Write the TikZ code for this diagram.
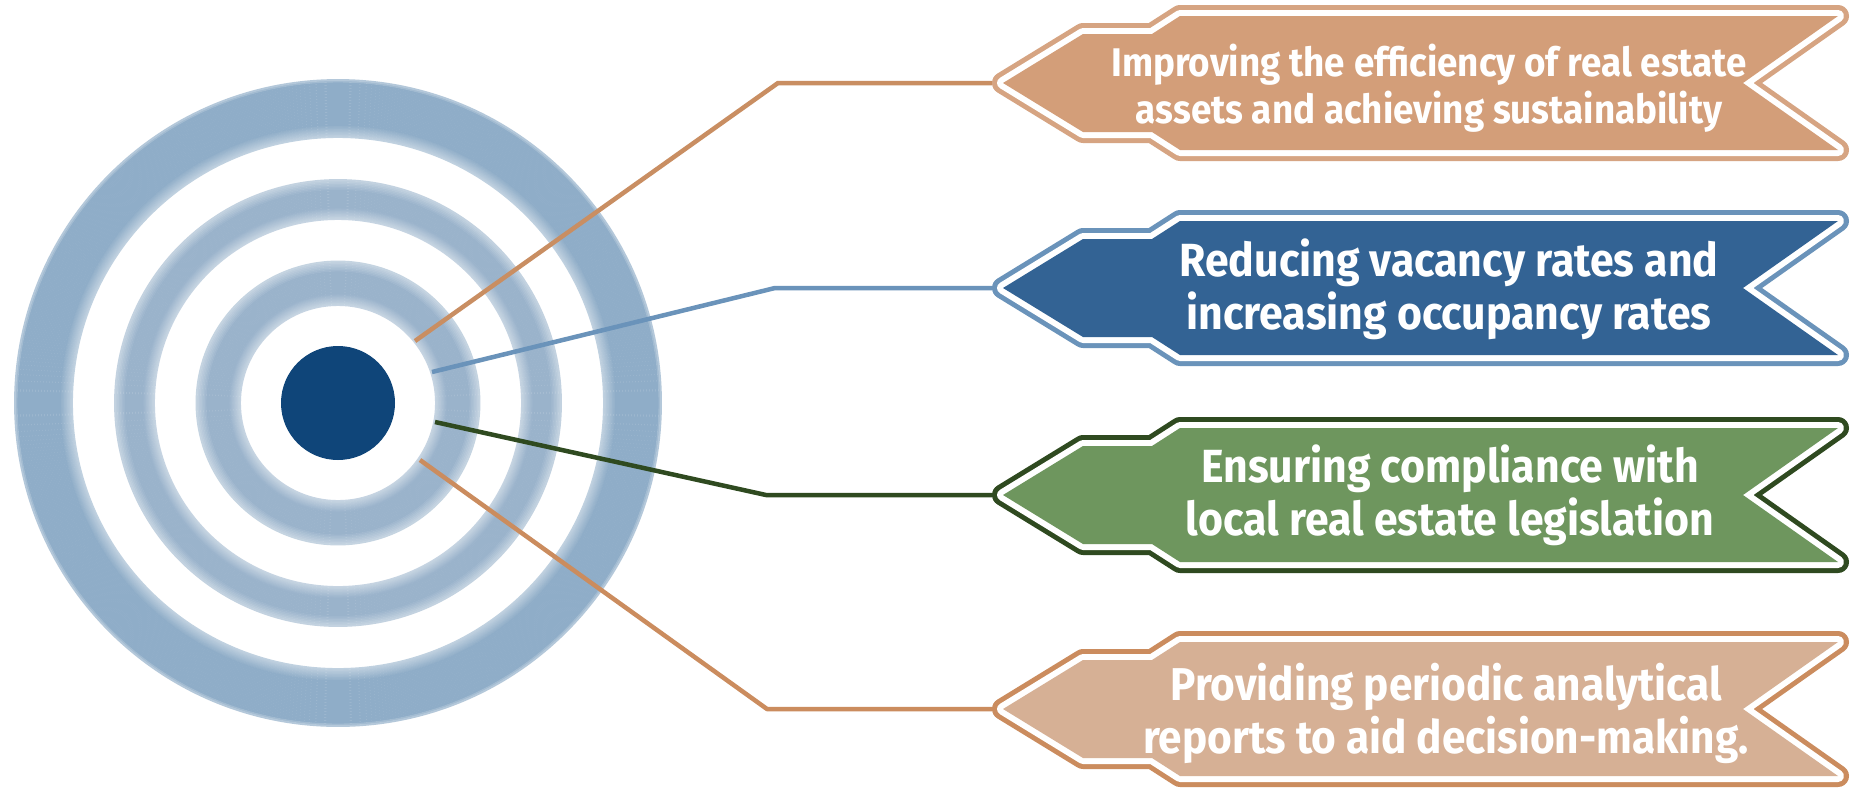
\documentclass[tikz,border=0pt]{standalone}
\usepackage{fontspec}
\newfontfamily\bannerfont{Fira Sans}[FakeStretch=0.92]
\usetikzlibrary{calc}
\definecolor{ringc}{HTML}{8FADC8}
\definecolor{ringb}{HTML}{9AB3CB}
\definecolor{dotc}{HTML}{0F4579}
\definecolor{orA}{HTML}{D39E79}
\definecolor{orAline}{HTML}{D6A482}
\definecolor{orConn}{HTML}{C98E62}
\definecolor{blFill}{HTML}{336394}
\definecolor{blLine}{HTML}{6A93BA}
\definecolor{grFill}{HTML}{6E965E}
\definecolor{grLine}{HTML}{2F4A20}
\definecolor{peFill}{HTML}{D6B095}
\definecolor{peLine}{HTML}{CB8C5E}
\tikzset{
  bannerpath/.style={insert path={(1003,#1) -- (1083,#1-49) -- (1152,#1-49) -- (1180,#1-67) -- (1838,#1-67) -- (1743,#1) -- (1838,#1+67) -- (1180,#1+67) -- (1152,#1+49) -- (1083,#1+49) -- cycle}},
  bannertext/.style n args={2}{text=white, font=\bannerfont\bfseries\fontsize{#1}{#2}\selectfont, align=center, inner sep=0pt},
  conn/.style={line width=4.5pt, line join=round}
}
\newcommand\drawbanner[3]{%
  \draw[#2, line width=22pt, line join=round, bannerpath=#1];
  \draw[white, line width=12pt, line join=round, bannerpath=#1];
  \fill[#3, bannerpath=#1];
}
\begin{document}
\begin{tikzpicture}[x=1pt,y=-1pt]
\useasboundingbox (0,0) rectangle (1850,788);
\fill[white] (0,0) rectangle (1850,788);
\coordinate (c) at (338,403);
% rings with soft edges
\foreach \a/\b/\wi/\wo/\col in {98/142/11/11/ringb, 184/224/11/11/ringb, 266/324/12/4/ringc}{
  \pgfmathsetmacro\aa{\a+1.5}
  \foreach \r in {\a,\aa,...,\b}{
    \pgfmathtruncatemacro\p{56+44*min(1,min((\r-\a)/\wi,(\b-\r)/\wo))}
    \draw[line width=1.9pt, \col!\p!white] (c) circle[radius=\r pt];
  }
}
\node[circle, fill=dotc, minimum size=114pt, inner sep=0pt] (dot) at (c) {};
% connector coordinates
\coordinate (s1) at (415,341);
\coordinate (s2) at (432,372);
\coordinate (s3) at (435,422);
\coordinate (s4) at (420,460);
\coordinate (k1) at (778,83);
\coordinate (k2) at (775,288);
\coordinate (k3) at (766,495);
\coordinate (k4) at (767,709);
\coordinate (t1) at (992,83);
\coordinate (t2) at (992,288);
\coordinate (t3) at (992,495);
\coordinate (t4) at (992,709);
\draw[conn, orConn] (s1) -- (k1) -- (t1);
\draw[conn, blLine] (s2) -- (k2) -- (t2);
\draw[conn, grLine] (s3) -- (k3) -- (t3);
\draw[conn, peLine] (s4) -- (k4) -- (t4);
% banners
\drawbanner{83}{orAline}{orA}
\drawbanner{288}{blLine}{blFill}
\drawbanner{495}{grLine}{grFill}
\drawbanner{709}{peLine}{peFill}
\node[bannertext={40}{47}] (b1) at (1429,88) {Improving the efficiency of real estate\\assets and achieving sustainability};
\node[bannertext={46.5}{53}] (b2) at (1449,289) {Reducing vacancy rates and\\increasing occupancy rates};
\node[bannertext={46.5}{53}] (b3) at (1450,495) {Ensuring compliance with\\local real estate legislation};
\node[bannertext={46}{53}] (b4) at (1446,713) {Providing periodic analytical\\reports to aid decision-making.};
\end{tikzpicture}
\end{document}
